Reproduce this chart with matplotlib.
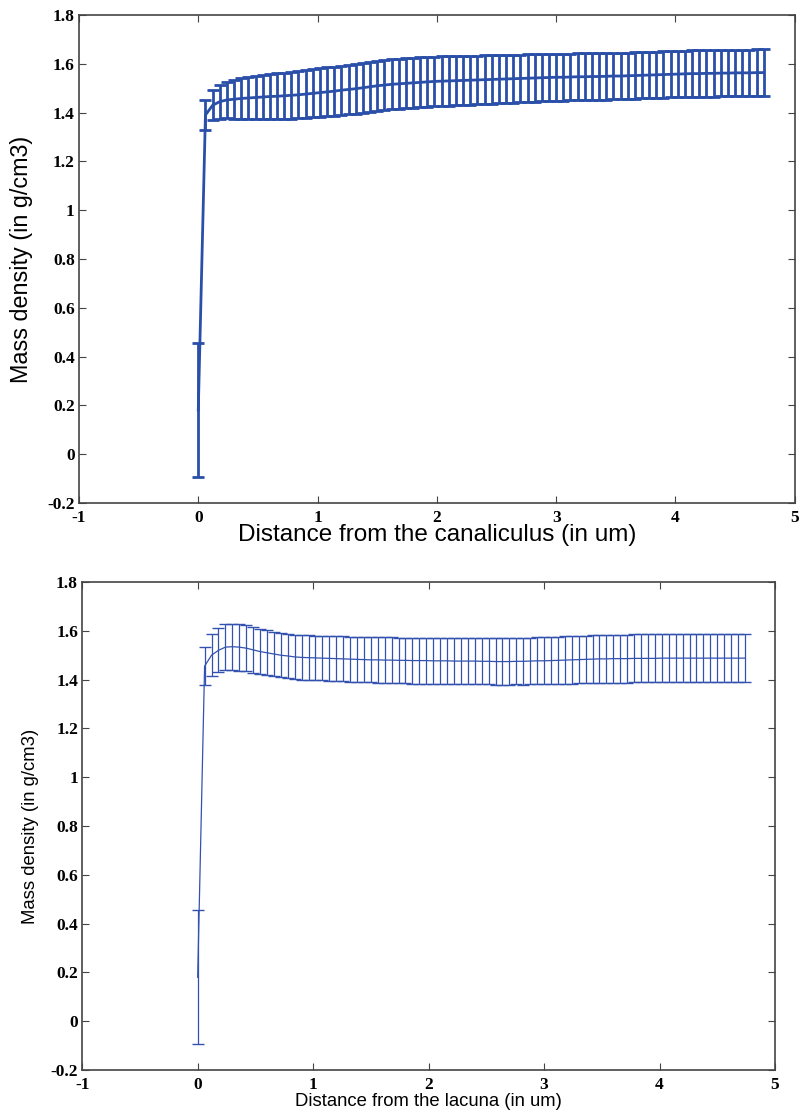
import numpy as np
import matplotlib
matplotlib.use("Agg")
import matplotlib.pyplot as plt

# sampling positions (um), same grid for both profiles
x_top = np.arange(80) * 0.06
x_bot = np.arange(80) * 0.06

# canaliculus profile: mean and std of mass density (g/cm3)
top_mean = [0.18, 1.39, 1.43, 1.445, 1.452, 1.455, 1.458, 1.460, 1.462, 1.464,
            1.466, 1.467, 1.469, 1.471, 1.473, 1.476, 1.479, 1.482, 1.485, 1.488,
            1.492, 1.495, 1.498, 1.502, 1.506, 1.510, 1.513, 1.516, 1.518, 1.520,
            1.522, 1.524, 1.526, 1.528, 1.529, 1.530, 1.531, 1.532, 1.533, 1.534,
            1.535, 1.536, 1.537, 1.538, 1.539, 1.540, 1.541, 1.542, 1.543, 1.544,
            1.545, 1.545, 1.546, 1.547, 1.547, 1.548, 1.548, 1.549, 1.550, 1.550,
            1.551, 1.552, 1.553, 1.554, 1.555, 1.556, 1.557, 1.558, 1.559, 1.560,
            1.560, 1.561, 1.561, 1.562, 1.562, 1.563, 1.563, 1.563, 1.564, 1.564]
top_std = [0.275, 0.060, 0.062, 0.070, 0.075, 0.080, 0.083, 0.086, 0.088, 0.090,
           0.092, 0.094, 0.095, 0.096, 0.097, 0.098, 0.099, 0.100, 0.100, 0.101,
           0.101, 0.102, 0.102, 0.102, 0.103, 0.103, 0.103, 0.103, 0.103, 0.103,
           0.103, 0.103, 0.102, 0.102, 0.102, 0.101, 0.101, 0.101, 0.100, 0.100,
           0.100, 0.099, 0.099, 0.099, 0.098, 0.098, 0.098, 0.097, 0.097, 0.097,
           0.097, 0.096, 0.096, 0.096, 0.096, 0.096, 0.096, 0.096, 0.095, 0.095,
           0.095, 0.095, 0.095, 0.095, 0.095, 0.095, 0.095, 0.095, 0.095, 0.095,
           0.095, 0.095, 0.095, 0.095, 0.095, 0.095, 0.095, 0.095, 0.095, 0.095]

# lacuna profile
bot_mean = [0.18, 1.455, 1.500, 1.520, 1.533, 1.535, 1.533, 1.529, 1.522, 1.515,
            1.510, 1.505, 1.500, 1.497, 1.493, 1.491, 1.490, 1.489, 1.488, 1.487,
            1.486, 1.485, 1.484, 1.483, 1.482, 1.481, 1.481, 1.480, 1.480, 1.479,
            1.479, 1.478, 1.478, 1.478, 1.477, 1.477, 1.477, 1.476, 1.476, 1.476,
            1.476, 1.475, 1.475, 1.474, 1.474, 1.474, 1.475, 1.475, 1.476, 1.477,
            1.477, 1.478, 1.479, 1.480, 1.481, 1.482, 1.483, 1.484, 1.485, 1.485,
            1.486, 1.486, 1.486, 1.487, 1.487, 1.487, 1.487, 1.488, 1.488, 1.488,
            1.488, 1.488, 1.488, 1.488, 1.488, 1.488, 1.488, 1.488, 1.488, 1.488]
bot_std = [0.275, 0.078, 0.085, 0.090, 0.094, 0.094, 0.096, 0.095, 0.094, 0.093,
           0.092, 0.092, 0.091, 0.091, 0.091, 0.091, 0.091, 0.091, 0.091, 0.091,
           0.091, 0.092, 0.092, 0.092, 0.092, 0.092, 0.093, 0.093, 0.093, 0.093,
           0.093, 0.094, 0.094, 0.094, 0.094, 0.094, 0.094, 0.095, 0.095, 0.095,
           0.095, 0.095, 0.095, 0.095, 0.095, 0.095, 0.095, 0.096, 0.096, 0.096,
           0.096, 0.096, 0.097, 0.097, 0.097, 0.097, 0.097, 0.098, 0.098, 0.098,
           0.098, 0.098, 0.098, 0.098, 0.098, 0.098, 0.098, 0.098, 0.098, 0.098,
           0.098, 0.098, 0.098, 0.098, 0.098, 0.098, 0.098, 0.098, 0.098, 0.098]

xticks = [-1, 0, 1, 2, 3, 4, 5]
yticks = [-0.2, 0, 0.2, 0.4, 0.6, 0.8, 1, 1.2, 1.4, 1.6, 1.8]
ytick_labels = ["-0.2", "0", "0.2", "0.4", "0.6", "0.8", "1", "1.2", "1.4", "1.6", "1.8"]
xtick_labels = ["-1", "0", "1", "2", "3", "4", "5"]

sans = ["Liberation Sans", "DejaVu Sans"]
serif = ["Liberation Serif", "DejaVu Serif"]

fig = plt.figure(figsize=(8.06, 11.15), dpi=100)
ax1 = fig.add_axes([0.098, 0.549, 0.888, 0.4375])
ax2 = fig.add_axes([0.102, 0.0404, 0.8595, 0.4376])


def style(ax, xlabel, ylabel, xsize, ysize, xpad, ypad):
    ax.set_xlim(-1, 5)
    ax.set_ylim(-0.2, 1.8)
    ax.set_xticks(xticks)
    ax.set_xticklabels(xtick_labels, family=serif, weight="bold", fontsize=12.5)
    ax.set_yticks(yticks)
    ax.set_yticklabels(ytick_labels, family=serif, weight="bold", fontsize=12.5)
    ax.tick_params(direction="in", length=5, width=0.8, top=True, right=True,
                   color="#444444")
    ax.tick_params(axis="x", pad=5)
    ax.tick_params(axis="y", pad=3)
    for s in ax.spines.values():
        s.set_color("#444444")
        s.set_linewidth(1.2)
    ax.set_xlabel(xlabel, family=sans, fontsize=xsize, labelpad=xpad)
    ax.set_ylabel(ylabel, family=sans, fontsize=ysize, labelpad=ypad)


ax1.errorbar(x_top, top_mean, yerr=top_std, color="#2a4fa8", lw=2.0,
             elinewidth=2.0, capsize=4, capthick=2.0)
style(ax1, "Distance from the canaliculus (in um)",
      "Mass density (in g/cm3)", 17.5, 16.8, -1, 10)

ax2.errorbar(x_bot, bot_mean, yerr=bot_std, color="#3352b0", lw=0.9,
             elinewidth=0.9, capsize=4, capthick=1.0)
style(ax2, "Distance from the lacuna (in um)",
      "Mass density (in g/cm3)", 13.3, 13.3, 0, 8)

fig.savefig("out.png", dpi=100)
